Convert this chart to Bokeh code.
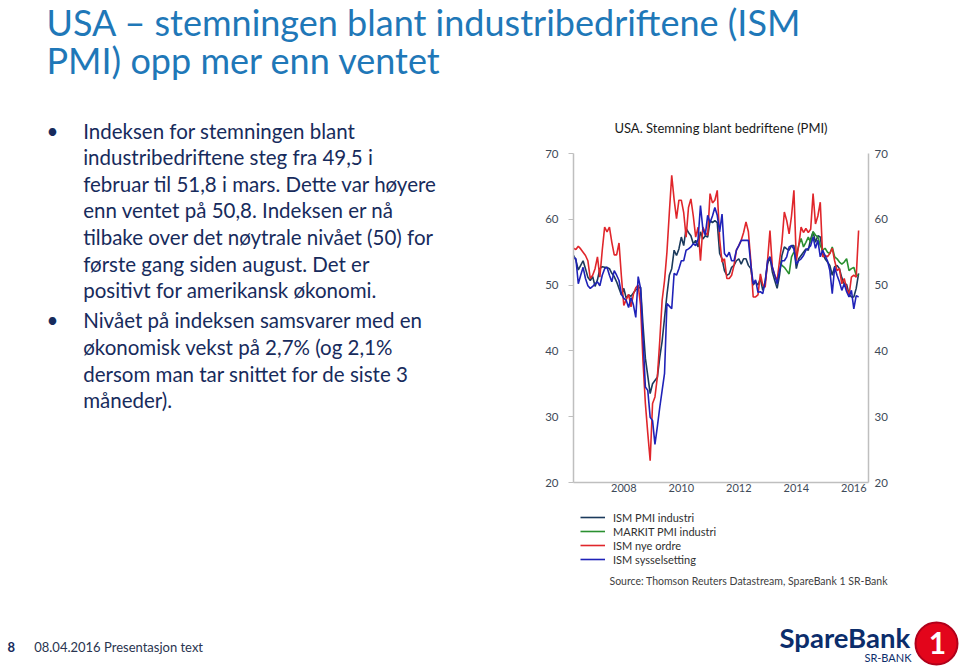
from bokeh.plotting import figure
from bokeh.models import Range1d, LinearAxis, FixedTicker, Label, Legend, LegendItem
from bokeh.layouts import column, row
from bokeh.embed import file_html
from bokeh.resources import INLINE

# ---------------- data (monthly, April 2006 - March 2016) ----------------
start_year = 2006
start_month = 4

ism_pmi = [
    54.5, 53.8, 52.3, 53.0, 53.7, 52.5, 51.2, 50.7, 51.3, 49.8, 50.8, 52.5,
    52.8, 52.7, 52.7, 52.5, 51.8, 51.3, 50.5, 49.5, 48.5, 49.5, 48.0, 48.5,
    48.3, 48.8, 49.3, 49.5, 49.7, 44.0, 38.9, 36.2, 33.5, 35.0, 35.5, 36.0,
    39.0, 41.5, 45.0, 48.5, 51.5, 52.5, 55.3, 54.5, 55.5, 57.3, 56.0, 58.6,
    58.0, 57.5, 56.3, 56.8, 55.8, 58.1, 57.0, 57.5, 57.3, 59.8, 59.5, 59.8,
    59.5, 54.8, 54.0, 52.2, 51.5, 51.7, 52.7, 53.0, 53.7, 54.0, 53.2, 54.0,
    54.0, 53.0, 52.5, 50.0, 50.5, 50.0, 51.0, 49.2, 50.5, 53.2, 54.3, 52.0,
    50.7, 49.5, 51.5, 54.5, 55.8, 55.5, 55.3, 56.0, 56.0, 52.5, 54.0, 54.5,
    55.0, 55.5, 55.3, 57.0, 58.1, 56.5, 57.5, 57.3, 54.8, 54.0, 53.5, 53.0,
    51.5, 52.8, 53.0, 52.5, 51.1, 50.2, 50.1, 48.6, 48.2, 48.2, 49.5, 51.8,
]

# Markit series starts June 2013 (month index 86)
markit_start_index = 86
markit_pmi = [
    53.7, 53.0, 52.7, 52.2, 51.7, 54.3, 55.0,
    54.5, 56.0, 57.1, 55.8, 56.5, 57.3, 56.5, 58.1, 57.6, 57.3, 56.0, 55.3,
    55.6, 55.0, 54.8, 55.8, 54.3, 54.0, 53.5, 53.2, 53.5, 54.0, 52.2, 52.5,
    52.7, 51.5, 51.5,
]

ism_new_orders = [
    55.6, 55.4, 55.9, 55.5, 55.0, 54.5, 53.7, 51.0, 51.5, 52.5, 54.3, 51.2,
    55.3, 58.8, 58.1, 58.8, 56.5, 54.6, 54.6, 56.4, 51.3, 46.9, 47.8, 48.6,
    46.7, 48.6, 49.6, 50.0, 46.9, 38.5, 32.0, 27.5, 23.3, 32.0, 33.0, 36.0,
    41.5, 47.7, 50.7, 55.0, 61.0, 66.7, 63.0, 60.1, 62.9, 62.9, 61.0, 57.3,
    61.8, 63.1, 60.5, 57.3, 58.8, 53.7, 58.8, 58.0, 57.6, 63.9, 62.5, 62.9,
    64.4, 57.0, 53.5, 54.0, 51.0, 51.0, 51.5, 53.0, 55.3, 56.0, 56.8, 58.0,
    59.6, 58.1, 53.7, 48.2, 48.2, 48.5, 51.7, 50.0, 49.7, 53.7, 58.3, 52.7,
    51.5, 50.7, 53.7, 56.5, 61.1, 59.8, 57.8, 60.5, 64.4, 53.7, 56.0, 58.8,
    58.0, 58.6, 58.0, 58.5, 63.9, 59.3, 60.5, 62.6, 54.3, 54.5, 54.3, 54.8,
    55.6, 53.7, 52.2, 52.5, 50.2, 51.0, 49.5, 48.4, 51.2, 51.5, 51.2, 58.3,
]

ism_employment = [
    54.2, 54.0, 50.2, 51.5, 52.7, 51.0, 49.9, 49.5, 49.8, 50.2, 50.5, 49.9,
    51.5, 52.5, 52.7, 51.5, 50.5, 52.2, 51.5, 50.7, 48.6, 48.0, 47.7, 46.6,
    48.1, 47.0, 45.1, 51.3, 49.5, 42.0, 34.5, 34.0, 29.9, 29.4, 25.8, 28.5,
    31.4, 34.0, 36.6, 47.2, 46.8, 46.4, 51.8, 51.5, 52.5, 53.7, 53.7, 55.3,
    55.5, 55.8, 56.3, 56.0, 57.0, 62.1, 58.5, 57.6, 60.6, 59.5, 60.5, 61.8,
    60.6, 58.1, 60.8, 54.8, 54.3, 55.0, 53.7, 53.7, 55.3, 56.0, 56.8, 56.8,
    56.8, 56.8, 53.2, 50.2, 50.8, 48.9, 49.0, 48.7, 50.5, 53.7, 54.3, 52.7,
    51.5, 50.2, 52.2, 53.7, 53.7, 54.3, 55.8, 56.0, 55.5, 53.2, 53.7, 54.0,
    54.5, 55.3, 55.6, 56.0, 57.3, 55.6, 56.8, 54.3, 55.3, 54.5, 53.7, 52.2,
    48.7, 52.7, 51.5, 50.5, 49.2, 50.2, 49.0, 48.2, 49.2, 46.4, 48.4, 48.2,
]

series_names = ["ISM PMI industri", "MARKIT PMI industri", "ISM nye ordre", "ISM sysselsetting"]
series_colors = ["#1B3A5C", "#2A9030", "#E0262B", "#1F22B8"]
y_ticks = [20, 30, 40, 50, 60, 70]
x_ticks = [2008, 2010, 2012, 2014, 2016]

months = [start_year + (start_month - 1 + i) / 12 for i in range(len(ism_pmi))]
markit_months = months[markit_start_index:markit_start_index + len(markit_pmi)]
series_x = [months, markit_months, months, months]
series_y = [ism_pmi, markit_pmi, ism_new_orders, ism_employment]

FONT = "Lato"
TITLE_BLUE = "#1F78B8"
TEXT_NAVY = "#172B5C"
W, H = 960, 669


def blank_fig(w, h, x0, y0, bottom_border=0):
    """Text-only figure whose data coordinates are page pixels."""
    f = figure(width=w, height=h, title=None,
               x_range=Range1d(x0, x0 + w), y_range=Range1d(y0 + h - bottom_border, y0),
               output_backend="svg", toolbar_location=None,
               x_axis_location=None, y_axis_location=None,
               min_border=0, min_border_left=0, min_border_right=0,
               min_border_top=0, min_border_bottom=bottom_border)
    f.grid.visible = False
    f.outline_line_color = None
    return f


# ---------------- header (title) ----------------
HEADER_H = 110
header = blank_fig(W, HEADER_H, 0, 0)
for txt, yb in [("USA \u2013 stemningen blant industribedriftene (ISM", 21),
                ("PMI) opp mer enn ventet", 59)]:
    header.add_layout(Label(x=46, y=yb, text=txt, text_font=FONT, text_font_size="36px",
                            text_color=TITLE_BLUE, text_baseline="alphabetic"))

# ---------------- middle row ----------------
ROW_H = 390
BOTTOM_B = 18
LEFT_W = 530

left = blank_fig(LEFT_W, ROW_H, 0, HEADER_H, bottom_border=BOTTOM_B)
bullet1 = ["Indeksen for stemningen blant",
           "industribedriftene steg fra 49,5 i",
           "februar til 51,8 i mars. Dette var h\u00f8yere",
           "enn ventet p\u00e5 50,8. Indeksen er n\u00e5",
           "tilbake over det n\u00f8ytrale niv\u00e5et (50) for",
           "f\u00f8rste gang siden august. Det er",
           "positivt for amerikansk \u00f8konomi."]
bullet2 = ["Niv\u00e5et p\u00e5 indeksen samsvarer med en",
           "\u00f8konomisk vekst p\u00e5 2,7% (og 2,1%",
           "dersom man tar snittet for de siste 3",
           "m\u00e5neder)."]
y1 = [130, 156.5, 183, 209.5, 236.5, 263, 289.5]
y2 = [319.5, 346, 373, 399.5]
for lines, ys in [(bullet1, y1), (bullet2, y2)]:
    left.add_layout(Label(x=46, y=ys[0], text="\u2022", text_font=FONT, text_font_size="20.5px",
                          text_color=TEXT_NAVY, text_baseline="alphabetic"))
    for t, yy in zip(lines, ys):
        left.add_layout(Label(x=82.7, y=yy, text=t, text_font=FONT, text_font_size="20.5px",
                              text_color=TEXT_NAVY, text_baseline="alphabetic"))

# chart: frame x 573..868, y 110..482 ; value 70 at y=153, 20 at y=482
x_start, x_end = 2006.25, 2016.511
y_low, y_high = 20, 76.535
p = figure(width=W - LEFT_W, height=ROW_H, title=None,
           x_range=Range1d(x_start, x_end), y_range=Range1d(y_low, y_high),
           output_backend="svg", toolbar_location=None,
           min_border_left=573 - LEFT_W, min_border_right=W - 868,
           min_border_top=0, min_border_bottom=BOTTOM_B)
p.grid.visible = False
p.outline_line_color = None
p.background_fill_color = "white"

AXIS_GRAY = "#BFBFBF"
TICK_TXT = "#3E4A58"

yaxis = p.yaxis[0]
yaxis.ticker = FixedTicker(ticks=y_ticks)
yaxis.bounds = (20, 70)
yaxis.axis_line_color = AXIS_GRAY
yaxis.axis_line_width = 1.5
yaxis.major_tick_line_color = AXIS_GRAY
yaxis.major_tick_out = 5
yaxis.major_tick_in = 0
yaxis.minor_tick_line_color = None
yaxis.minor_tick_out = 0
yaxis.major_label_standoff = 10
yaxis.major_label_text_font = FONT
yaxis.major_label_text_font_size = "11.5px"
yaxis.major_label_text_color = TICK_TXT

raxis = LinearAxis(ticker=FixedTicker(ticks=y_ticks), bounds=(20, 70))
raxis.axis_line_color = AXIS_GRAY
raxis.axis_line_width = 1.5
raxis.major_tick_line_color = None
raxis.major_tick_out = 0
raxis.minor_tick_line_color = None
raxis.minor_tick_out = 0
raxis.major_label_standoff = 6
raxis.major_label_text_font = FONT
raxis.major_label_text_font_size = "11.5px"
raxis.major_label_text_color = TICK_TXT
p.add_layout(raxis, "right")

xaxis = p.xaxis[0]
xaxis.ticker = FixedTicker(ticks=x_ticks)
xaxis.axis_line_color = AXIS_GRAY
xaxis.axis_line_width = 1.5
xaxis.major_tick_line_color = None
xaxis.major_tick_out = 0
xaxis.minor_tick_line_color = None
xaxis.minor_tick_out = 0
xaxis.major_label_standoff = 1
xaxis.major_label_text_font = FONT
xaxis.major_label_text_font_size = "11px"
xaxis.major_label_text_color = TICK_TXT

for xs, ys, c in zip(series_x, series_y, series_colors):
    p.line(xs, ys, line_color=c, line_width=1.6)

# chart title, inside the frame's top margin (above the 70 line)
p.add_layout(Label(x=(x_start + x_end) / 2, y=73.8,
                   text="USA. Stemning blant bedriftene (PMI)", text_align="center",
                   text_baseline="alphabetic", text_font=FONT, text_font_size="13px",
                   text_color="#1A1A1A"))

# ---------------- footer (legend, source, page footer, logo) ----------------
FOOT_Y0 = HEADER_H + ROW_H
FOOT_H = H - FOOT_Y0
footer = blank_fig(W, FOOT_H, 0, FOOT_Y0)

# legend keys (hidden copies of the series; only their legend swatches are shown)
legend_renderers = [footer.line(xs, ys, line_color=c, line_width=1.6, visible=False)
                    for xs, ys, c in zip(series_x, series_y, series_colors)]
legend = Legend(items=[LegendItem(label=n, renderers=[r]) for n, r in zip(series_names, legend_renderers)],
                location=(578, FOOT_H - (508 - FOOT_Y0) - 60), orientation="vertical")
legend.background_fill_alpha = 0
legend.border_line_alpha = 0
legend.inactive_fill_alpha = 0
legend.label_text_font = FONT
legend.label_text_font_size = "11px"
legend.label_text_color = "#303030"
legend.glyph_width = 25
legend.glyph_height = 14
legend.label_height = 14
legend.label_standoff = 8
legend.padding = 2
legend.spacing = 0
legend.margin = 0
footer.add_layout(legend)

footer.add_layout(Label(x=609, y=580, text="Source: Thomson Reuters Datastream, SpareBank 1 SR-Bank",
                        text_baseline="alphabetic", text_font=FONT, text_font_size="10.5px",
                        text_color="#404040"))

footer.add_layout(Label(x=7, y=646.5, text="8", text_font=FONT, text_font_size="13px",
                        text_font_style="bold", text_color=TEXT_NAVY, text_baseline="alphabetic"))
footer.add_layout(Label(x=33.7, y=646.5, text="08.04.2016   Presentasjon text", text_font=FONT,
                        text_font_size="13px", text_color="#2A3550", text_baseline="alphabetic"))
footer.add_layout(Label(x=779, y=637, text="SpareBank", text_font=FONT, text_font_size="27.5px",
                        text_font_style="bold", text_color="#0B2D6B", text_baseline="alphabetic"))
footer.add_layout(Label(x=911, y=656.5, text="SR-BANK", text_font=FONT, text_font_size="11px",
                        text_color="#0B2D6B", text_align="right", text_baseline="alphabetic"))
footer.circle(x=[936], y=[643], radius=21, fill_color="#E3051B", line_color="#B0001A", line_width=2)
footer.add_layout(Label(x=937, y=642, text="1", text_font=FONT, text_font_size="30px",
                        text_font_style="bold", text_color="white", text_align="center",
                        text_baseline="alphabetic"))

layout = column(header, row(left, p, spacing=0), footer, spacing=0)

open("out.html", "w").write(file_html(layout, INLINE))
